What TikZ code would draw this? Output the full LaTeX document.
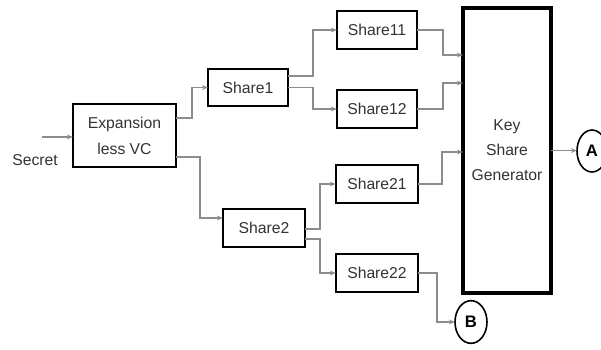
\documentclass[tikz,border=0pt]{standalone}
\usepackage{fontspec}
\setmainfont{Liberation Sans}
\usetikzlibrary{arrows.meta,calc,shapes.geometric}
\definecolor{txt}{HTML}{333333}
\definecolor{wire}{HTML}{8C8C8C}
\tikzset{
  box/.style={draw=black, line width=2.2pt, fill=white, outer sep=0pt, inner sep=0pt,
    text=txt, font=\fontsize{11.8}{19.5}\selectfont, align=center},
  bigbox/.style={box, line width=3pt},
  term/.style={draw=black, line width=1.2pt, ellipse, fill=white, inner sep=0pt, outer sep=0pt,
    text=black, font=\fontsize{12.5}{14}\selectfont\bfseries},
  conn/.style={draw=wire, line width=0.9pt, -{Stealth[length=4.5pt,width=3.5pt]}},
}
\begin{document}
\begin{tikzpicture}[x=0.75pt,y=-0.75pt]
  \useasboundingbox (0,0) rectangle (601,350);
  % blocks
  \node[box, minimum width=77.25pt, minimum height=47.25pt] (exp) at (124.5,135.5) {Expansion\\less VC};
  \node[box, minimum width=60pt, minimum height=27.75pt] (s1) at (248,87.5) {Share1};
  \node[box, minimum width=60pt, minimum height=28.5pt] (s11) at (377,30) {Share11};
  \node[box, minimum width=60pt, minimum height=28.5pt] (s12) at (377,109) {Share12};
  \node[box, minimum width=61.5pt, minimum height=28.5pt] (s2) at (264,228) {Share2};
  \node[box, minimum width=61.5pt, minimum height=28.5pt] (s21) at (377,184) {Share21};
  \node[box, minimum width=61.5pt, minimum height=28.5pt] (s22) at (377,273) {Share22};
  \node[bigbox, minimum width=66pt, minimum height=213.75pt, font=\fontsize{11.8}{18.75}\selectfont] (ksg) at (507,150.5) {Key\\Share\\Generator};
  % off-page connectors
  \node[term, minimum width=22.5pt, minimum height=31.5pt] (A) at (592,151) {A};
  \node[term, minimum width=24pt, minimum height=32pt] (B) at (471,322) {B};
  % input
  \coordinate (sec) at (42,137);
  \node[text=txt, font=\fontsize{11.8}{14}\selectfont] (seclbl) at (35,160) {Secret};
  \draw[conn] (sec) -- (sec -| exp.west);
  % wiring
  \draw[conn] ($(exp.east)+(0,-17.5)$) -- ++(16,0) |- (s1.west);
  \draw[conn] ($(exp.east)+(0,21.5)$) -- ++(24,0) |- ($(s2.west)+(0,-10)$);
  \draw[conn] ($(s1.east)+(0,-11.5)$) -- ++(25,0) |- (s11.west);
  \draw[conn] (s1.east) -- ++(25,0) |- (s12.west);
  \draw[conn] ($(s2.east)+(0,1)$) -- ++(15,0) |- (s21.west);
  \draw[conn] ($(s2.east)+(0,11)$) -- ++(15,0) |- (s22.west);
  \draw[conn] (s11.east) -- ++(26,0) |- ($(ksg.west)+(0,-95.5)$);
  \draw[conn] (s12.east) -- ++(26,0) |- ($(ksg.west)+(0,-67.5)$);
  \draw[conn] (s21.east) -- ++(24,0) |- ($(ksg.west)+(0,1.5)$);
  \draw[conn] (s22.east) -- ++(19,0) |- (B.west);
  \draw[conn] (ksg.east) -- (ksg.east -| A.west);
\end{tikzpicture}
\end{document}
